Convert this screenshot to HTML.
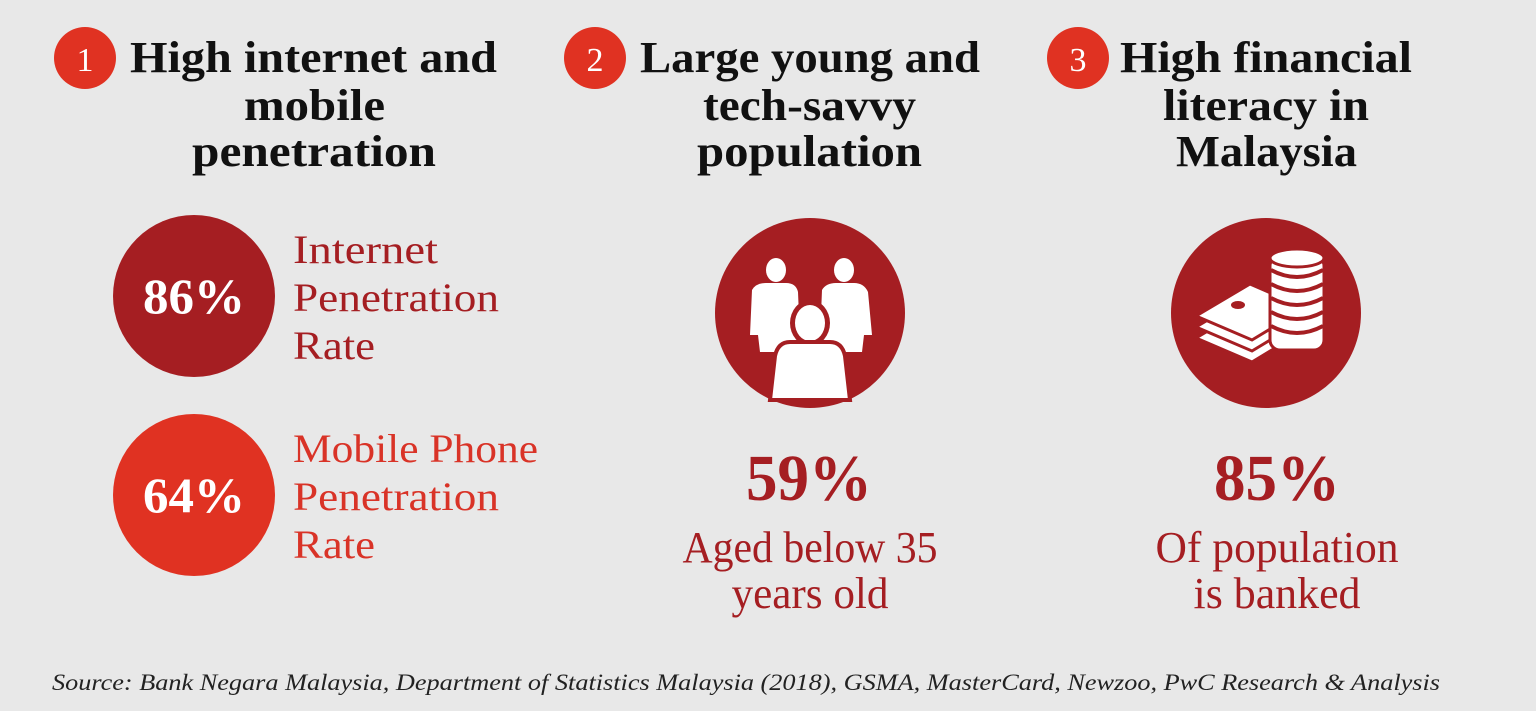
<!DOCTYPE html>
<html><head><meta charset="utf-8"><style>
html,body{margin:0;padding:0;background:#e8e8e8;}
svg{display:block;}
text{font-family:"Liberation Serif",serif;}
</style></head><body>
<svg width="1536" height="711" viewBox="0 0 1536 711" xmlns="http://www.w3.org/2000/svg">
<rect width="1536" height="711" fill="#e8e8e8"/>
<circle cx="85" cy="58" r="31" fill="#e03222"/>
<text x="85" y="71" font-size="34" fill="#fff" text-anchor="middle">1</text>
<circle cx="595" cy="58" r="31" fill="#e03222"/>
<text x="595" y="71" font-size="34" fill="#fff" text-anchor="middle">2</text>
<circle cx="1078" cy="58" r="31" fill="#e03222"/>
<text x="1078" y="71" font-size="34" fill="#fff" text-anchor="middle">3</text>
<g font-size="44" font-weight="bold" fill="#111">
<text x="130" y="72" textLength="367" lengthAdjust="spacingAndGlyphs">High internet and</text>
<text x="244" y="120" textLength="141" lengthAdjust="spacingAndGlyphs">mobile</text>
<text x="192" y="166" textLength="244" lengthAdjust="spacingAndGlyphs">penetration</text>
<text x="640" y="72" textLength="340" lengthAdjust="spacingAndGlyphs">Large young and</text>
<text x="703" y="120" textLength="213" lengthAdjust="spacingAndGlyphs">tech-savvy</text>
<text x="697" y="166" textLength="225" lengthAdjust="spacingAndGlyphs">population</text>
<text x="1120" y="72" textLength="292" lengthAdjust="spacingAndGlyphs">High financial</text>
<text x="1163" y="120" textLength="206" lengthAdjust="spacingAndGlyphs">literacy in</text>
<text x="1176" y="166" textLength="181" lengthAdjust="spacingAndGlyphs">Malaysia</text>
</g>
<circle cx="194" cy="296" r="81" fill="#a51e22"/>
<text x="143" y="313" font-size="50" font-weight="bold" fill="#fff" textLength="102" lengthAdjust="spacingAndGlyphs">86%</text>
<circle cx="194" cy="495" r="81" fill="#e03222"/>
<text x="143" y="512" font-size="50" font-weight="bold" fill="#fff" textLength="102" lengthAdjust="spacingAndGlyphs">64%</text>
<g font-size="40" fill="#a51e22">
<text x="293" y="263" textLength="145" lengthAdjust="spacingAndGlyphs">Internet</text>
<text x="293" y="311" textLength="206" lengthAdjust="spacingAndGlyphs">Penetration</text>
<text x="293" y="359" textLength="82" lengthAdjust="spacingAndGlyphs">Rate</text>
</g>
<g font-size="40" fill="#d93327">
<text x="293" y="462" textLength="245" lengthAdjust="spacingAndGlyphs">Mobile Phone</text>
<text x="293" y="510" textLength="206" lengthAdjust="spacingAndGlyphs">Penetration</text>
<text x="293" y="558" textLength="82" lengthAdjust="spacingAndGlyphs">Rate</text>
</g>
<ellipse cx="810" cy="313" rx="95" ry="95" fill="#a51e22"/>
<g fill="#fff">
<ellipse cx="776" cy="270" rx="10" ry="12"/>
<ellipse cx="844" cy="270" rx="10" ry="12"/>
<path d="M752 290 Q756 283 766 283 L786 283 Q796 283 798 292 L800 340 L790 340 L788 352 L760 352 L758 335 L750 335 Z"/>
<path d="M822 290 Q826 283 836 283 L854 283 Q864 283 868 292 L872 335 L864 335 L862 352 L832 352 L830 340 L820 340 Z"/>
<ellipse cx="810" cy="323" rx="20" ry="23" fill="#a51e22"/>
<ellipse cx="810" cy="323" rx="15" ry="18"/>
<path d="M790 342 L830 342 Q842 342 845 356 L850 400 L770 400 L775 356 Q778 342 790 342 Z" stroke="#a51e22" stroke-width="4"/>
</g>
<circle cx="1266" cy="313" r="95" fill="#a51e22"/>
<g fill="#fff" stroke="#a51e22" stroke-width="3">
<path d="M1196 338 L1250 306 L1305 330 L1252 362 Z"/>
<path d="M1196 327 L1250 295 L1305 319 L1252 351 Z"/>
<path d="M1196 316 L1250 284 L1305 308 L1252 340 Z"/>
<ellipse cx="1238" cy="305" rx="7" ry="4" fill="#a51e22" stroke="none"/>
<rect x="1270" y="256" width="54" height="94" rx="10"/>
<ellipse cx="1297" cy="258" rx="27" ry="9"/>
</g>
<g stroke="#a51e22" stroke-width="4" fill="none">
<path d="M1271 270 Q1297 284 1323 270"/>
<path d="M1271 284 Q1297 298 1323 284"/>
<path d="M1271 298 Q1297 312 1323 298"/>
<path d="M1271 312 Q1297 326 1323 312"/>
<path d="M1271 326 Q1297 340 1323 326"/>
</g>
<g fill="#a51e22" text-anchor="middle">
<text x="809" y="500" font-size="66" font-weight="bold" textLength="126" lengthAdjust="spacingAndGlyphs">59%</text>
<text x="1277" y="500" font-size="66" font-weight="bold" textLength="126" lengthAdjust="spacingAndGlyphs">85%</text>
<text x="810" y="562" font-size="44" textLength="255" lengthAdjust="spacingAndGlyphs">Aged below 35</text>
<text x="810" y="608" font-size="44" textLength="157" lengthAdjust="spacingAndGlyphs">years old</text>
<text x="1277" y="562" font-size="44" textLength="243" lengthAdjust="spacingAndGlyphs">Of population</text>
<text x="1277" y="608" font-size="44" textLength="167" lengthAdjust="spacingAndGlyphs">is banked</text>
</g>
<text x="52" y="690" font-size="23" font-style="italic" fill="#222" textLength="1388" lengthAdjust="spacingAndGlyphs">Source: Bank Negara Malaysia, Department of Statistics Malaysia (2018), GSMA, MasterCard, Newzoo, PwC Research &amp; Analysis</text>
</svg>
</body></html>
